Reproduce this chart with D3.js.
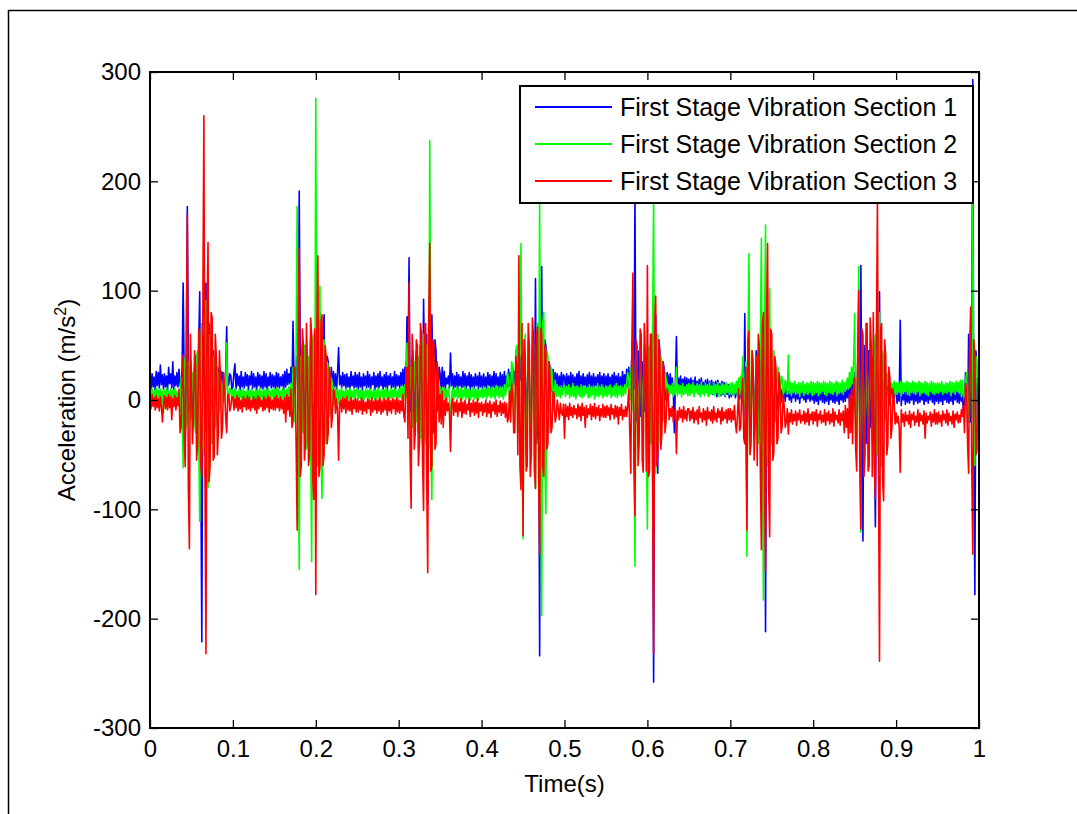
<!DOCTYPE html>
<html>
<head>
<meta charset="utf-8">
<script src="https://cdn.jsdelivr.net/npm/d3@7"></script>
<style>
  body { margin: 0; background: #fff; }
  text { font-family: "Liberation Sans", Arial, sans-serif; fill: #000; }
</style>
</head>
<body>
<svg width="1077" height="814"></svg>
<script>
// Sampling of the recorded signal (one value every 1.25 ms, 0 .. 1 s).
const sampleStep = 0.00125;
const sampleCount = 801;

// Section 1 (blue), m/s^2. 40 samples (50 ms) per row.
const section1 = [
  22,10,24,12,21,9,26,13,25,11,32,14,23,10,24,12,22,9,30,15,24,11,35,10,22,13,25,12,28,15,8,30,107,20,-40,25,177,40,-10,15,
  25,-15,5,30,40,-20,-30,50,99,-50,-221,60,40,-30,107,-40,-60,70,50,-20,-30,45,35,-10,5,30,28,8,10,26,24,11,12,25,67,13,14,24,22,10,
  12,25,33,10,24,13,22,9,26,12,21,11,25,13,23,9,22,14,26,10,24,12,21,9,25,13,23,11,22,10,26,12,24,9,21,13,25,11,23,12,
  22,10,25,12,24,11,21,13,23,9,26,12,28,14,24,15,30,12,72,20,5,35,40,-10,191,30,-20,50,35,-15,0,40,30,-25,-10,55,45,-35,-30,60,
  60,-45,-60,70,80,-30,-40,60,78,-25,-20,40,35,5,8,30,10,26,12,24,9,25,48,14,22,11,25,13,23,10,24,12,21,9,26,13,22,11,25,12,
  23,10,25,12,21,9,24,13,22,11,26,12,23,10,21,14,25,9,22,12,24,11,26,13,21,10,23,12,25,9,22,14,24,11,21,12,26,10,23,13,
  22,11,25,13,28,12,30,10,76,25,130,-10,-10,40,35,-20,5,45,40,-30,-5,50,50,-40,92,30,-20,60,-95,45,60,-50,78,20,-30,55,45,-10,5,30,
  24,8,30,12,26,10,20,15,22,11,43,13,24,10,22,12,25,9,23,13,21,11,26,12,24,10,22,13,25,9,23,12,21,11,24,13,22,10,25,12,
  22,11,24,12,21,10,25,13,23,9,22,12,26,11,24,13,21,10,25,12,23,11,26,14,22,12,28,13,25,11,30,14,26,15,32,12,30,18,40,10,
  -20,45,30,-10,5,35,25,-15,-10,50,40,-20,111,-40,-30,60,-234,30,122,-30,-20,55,50,-10,0,35,30,8,12,28,10,25,13,24,11,22,12,25,10,23,
  21,10,24,12,22,9,25,11,23,13,21,10,24,12,26,9,22,11,24,13,21,10,23,12,25,9,22,11,24,12,21,13,23,10,25,11,22,12,24,10,
  22,10,24,12,21,9,23,11,25,12,22,10,24,13,21,11,26,12,23,14,28,12,30,15,20,40,60,10,185,-10,-20,45,30,-15,0,35,25,-10,10,40,
  30,-35,-20,50,40,-30,-258,60,78,-40,-67,55,45,-25,-10,35,30,0,5,25,22,10,24,12,20,9,-30,15,58,8,20,11,22,9,19,12,21,10,20,11,
  19,7,20,9,18,6,21,8,17,7,19,5,20,8,16,6,18,7,19,4,17,6,18,5,16,7,17,3,18,6,15,4,17,5,16,3,15,5,14,2,
  14,3,15,5,13,2,16,4,18,1,20,0,30,-15,79,-20,-90,40,25,-30,-10,35,30,-25,-5,45,40,-35,-20,50,50,-30,-40,60,-212,40,74,-50,-30,45,
  30,-20,-5,25,20,-10,0,15,12,-2,10,2,9,-1,11,3,8,0,10,-2,9,2,11,-1,8,1,10,-3,9,2,7,0,10,-2,8,1,9,-1,11,0,
  8,-3,9,-1,7,-4,10,0,8,-2,9,-3,7,-1,10,-4,8,0,9,-2,7,-3,10,-1,8,-4,9,0,7,-2,11,-1,9,2,14,-3,12,4,22,-5,
  25,-20,-10,35,40,-15,123,-30,-129,50,30,-40,-20,45,45,-25,-10,40,35,-35,-116,30,20,-20,99,-40,-30,35,30,-15,-5,20,15,-5,0,12,8,-2,2,9,
  7,-3,8,-1,73,-5,9,0,7,-4,8,-2,10,-3,7,0,9,-4,8,-1,7,-3,10,-2,8,0,9,-4,7,-1,10,-3,8,0,9,-2,7,-4,8,-1,
  8,-3,9,-1,7,-4,10,0,8,-2,9,-3,7,-1,10,-4,8,0,9,-2,7,-3,11,-1,10,-15,-5,25,20,-20,60,-10,-20,40,293,-50,-178,45,30,-20,
  5
];

// Section 2 (green)
const section2 = [
  9,0,10,2,8,-1,11,1,9,0,10,-2,8,-12,9,1,11,0,8,2,10,-1,9,1,11,0,8,2,5,-10,20,-15,-62,30,39,-25,-20,35,25,-20,
  -10,25,15,-20,-30,40,45,-35,-111,50,70,-45,-50,65,91,-60,-80,50,60,-35,-40,40,35,-25,-15,30,20,-10,-5,15,12,-2,0,10,52,1,2,11,8,0,
  9,0,11,1,8,-1,10,2,9,0,11,-1,8,1,10,0,9,2,11,-1,8,0,10,1,9,-1,11,2,8,0,10,-1,9,1,11,0,8,2,10,1,
  9,1,11,0,10,2,8,-1,11,1,9,0,10,2,12,4,15,-5,30,-15,-20,45,177,-30,-155,40,40,-25,-30,50,50,-45,-40,40,35,-30,-148,55,60,-40,
  276,-40,-60,60,104,-50,-90,45,55,-30,-40,35,30,-15,-10,20,15,-5,0,12,1,10,-3,9,0,11,1,8,-1,10,2,9,0,11,1,8,2,10,0,9,
  10,1,9,2,11,0,8,1,10,3,9,0,11,2,8,1,10,0,9,2,11,1,8,3,10,0,9,2,11,1,8,0,10,2,9,1,11,3,8,1,
  10,2,11,1,12,0,14,3,52,-10,-20,30,30,-25,-15,35,25,-20,-10,40,35,-35,-30,45,60,-30,-40,50,45,-45,237,-40,-91,40,40,-30,-20,25,20,-5,
  12,-4,10,2,11,0,9,3,12,1,-36,2,11,0,9,3,12,1,10,2,11,0,9,3,12,1,10,2,11,0,9,3,12,1,10,2,11,0,9,3,
  11,2,12,3,10,1,13,4,11,2,12,3,10,1,13,4,11,2,12,3,10,1,14,4,12,25,20,0,8,35,30,-15,-10,45,50,-30,-20,60,143,-40,
  -127,40,60,-50,-40,55,45,-45,-30,60,50,-60,-81,50,70,-40,185,-60,-197,70,80,-50,-104,45,40,-30,-20,30,25,-10,0,18,3,14,4,12,2,13,5,11,
  13,3,12,5,14,2,11,4,15,3,12,1,13,5,11,3,14,2,12,4,13,6,11,2,14,3,12,5,13,1,11,4,15,3,12,5,14,2,11,4,
  13,3,12,5,14,2,11,4,13,3,15,2,12,5,13,3,11,4,14,6,14,25,20,0,30,-10,67,-20,-152,45,40,-35,-30,40,35,-25,-20,50,45,-40,
  -118,45,50,-40,-40,60,185,-50,-67,50,60,-40,-30,40,35,-20,-10,25,20,0,14,4,13,6,15,3,12,5,30,4,14,6,13,3,15,5,12,6,14,4,
  15,4,14,6,16,3,13,7,15,5,14,3,16,6,13,4,15,7,14,3,16,5,13,6,15,4,14,7,16,3,13,5,15,6,14,4,16,7,13,5,
  15,5,16,4,14,6,17,3,20,5,22,2,40,-10,10,35,-143,50,134,-30,-20,45,35,-35,-15,40,40,-40,-30,55,148,-50,-183,60,160,-45,-60,50,102,-40,
  -40,30,45,-20,-10,25,30,-5,5,22,20,4,8,18,15,5,41,6,16,4,15,7,17,5,14,6,16,3,15,7,17,4,14,6,16,5,15,7,17,4,
  16,5,15,7,17,4,16,6,15,8,17,5,16,4,15,7,17,6,16,5,15,8,17,4,16,6,15,7,18,5,16,8,15,20,10,25,12,30,15,35,
  79,-30,-20,40,122,-50,-121,45,50,-40,-30,35,40,-45,-20,40,45,-35,-40,50,60,-45,-50,55,80,-40,-60,45,40,-20,-10,25,20,6,5,16,15,7,17,5,
  16,5,15,7,17,4,16,6,15,8,17,5,16,4,15,7,17,6,16,5,15,8,17,4,16,6,15,7,17,5,16,4,15,8,17,6,16,5,15,7,
  16,6,15,8,17,5,14,7,16,6,15,8,17,4,16,7,15,5,17,8,16,6,18,3,18,4,3,15,25,-10,-20,30,40,-15,185,-40,-60,40,35,-10,
  12
];

// Section 3 (red)
const section3 = [
  3,-8,5,-6,2,-9,4,-7,1,-10,3,-6,-20,-5,4,-8,2,-9,5,-7,3,-18,1,-6,4,-9,2,-5,10,-30,-25,20,41,-35,-61,50,169,-80,-136,60,
  20,-40,-15,45,30,-55,-40,65,60,-60,-70,80,260,-65,-232,70,144,-75,-60,80,75,-55,-52,60,40,-50,-30,45,20,-35,-25,25,10,-15,-30,5,5,-10,-6,3,
  3,-9,1,-7,4,-10,2,-8,0,-11,3,-6,1,-9,4,-8,2,-10,0,-7,3,-9,1,-12,4,-8,2,-6,0,-10,3,-9,1,-7,4,-11,2,-8,0,-9,
  2,-9,4,-7,1,-10,3,-8,0,-12,2,-20,5,-9,3,-15,10,-25,-20,30,30,-40,-119,60,139,-70,-60,65,50,-55,-40,70,30,-60,-50,75,60,-70,-91,65,
  -178,60,132,-70,-60,70,78,-60,-50,50,40,-40,-30,30,20,-25,-15,10,8,-12,1,-10,-55,-3,0,-11,2,-8,1,-12,3,-9,-1,-10,2,-13,0,-8,1,-11,
  1,-11,-1,-9,2,-13,0,-10,-2,-12,1,-8,0,-14,2,-11,-1,-9,1,-12,0,-10,2,-13,-1,-11,1,-9,0,-14,2,-10,-1,-12,1,-8,0,-13,2,-11,
  0,-12,-1,-10,5,-15,-20,20,30,-35,107,-50,-99,60,40,-45,-30,55,50,-60,-40,70,60,-55,-101,65,70,-70,-158,75,143,-65,-60,55,50,-45,-40,35,25,-20,
  5,-22,8,-25,0,-14,2,-10,-3,-12,-47,-4,1,-14,-2,-11,0,-15,-3,-10,1,-16,-2,-12,0,-13,-4,-9,1,-15,-3,-11,0,-14,-2,-12,1,-16,-3,-10,
  -2,-14,-4,-11,0,-15,-3,-12,-1,-16,-4,-10,-2,-13,0,-15,-5,-11,-1,-14,-3,-12,-2,-16,-3,-20,-16,8,-20,15,5,-30,-30,40,30,-50,132,-60,-82,70,
  -124,55,40,-65,-60,70,50,-70,-50,75,60,-65,-81,60,67,-70,-141,65,60,-60,-70,50,45,-45,-40,35,20,-30,-25,8,5,-20,-15,0,-8,-18,-3,-12,-14,-4,
  -35,-4,-15,-6,-18,-3,-14,-7,-16,-5,-13,-8,-17,-4,-15,-6,-19,-3,-14,-7,-25,-5,-16,-8,-13,-4,-18,-6,-15,-3,-17,-7,-14,-5,-19,-8,-15,-4,-16,-6,
  -16,-5,-14,-7,-18,-4,-13,-8,-17,-5,-15,-6,-22,-7,-14,-4,-18,-9,-15,-6,-15,-5,10,-30,-67,50,116,-60,-106,55,50,-60,-40,65,60,-55,-66,70,40,-65,
  123,-70,-66,60,60,-75,-232,70,95,-60,-50,55,40,-45,-30,35,25,-30,-20,10,5,-18,-8,-15,-6,-20,-12,-8,-49,-10,-18,-7,-16,-9,-20,-6,-17,-10,-19,-8,
  -8,-19,-10,-17,-7,-21,-11,-18,-9,-22,-6,-16,-12,-20,-8,-18,-10,-23,-7,-17,-11,-19,-9,-21,-6,-18,-12,-20,-8,-16,-10,-22,-7,-19,-11,-17,-9,-21,-8,-18,
  -8,-20,-10,-18,-5,-22,-30,-12,10,-28,-25,5,20,-35,-40,30,-119,55,63,-50,-40,45,30,-55,-20,40,-60,60,50,-65,-137,70,80,-70,-157,75,143,-80,-125,65,
  60,-55,-48,40,30,-40,-35,25,10,-30,-25,5,-5,-25,-20,-8,-31,-12,-20,-9,-22,-13,-19,-10,-23,-12,-18,-9,-21,-14,-19,-10,-22,-12,-20,-8,-23,-13,-18,-11,
  -22,-11,-19,-9,-24,-13,-18,-10,-21,-14,-20,-9,-23,-12,-19,-10,-22,-13,-20,-8,-24,-11,-18,-14,-21,-9,-23,-12,-19,-10,-30,-5,-25,-8,-35,5,-30,10,-40,15,
  20,-45,-65,50,100,-60,-118,65,60,-70,-50,70,70,-65,-60,75,50,-70,80,-60,-90,60,182,-70,-239,65,70,-75,-92,55,40,-50,-40,30,20,-35,-25,10,0,-22,
  -12,-21,-15,-25,-66,-9,-20,-13,-24,-11,-19,-14,-22,-10,-25,-13,-18,-11,-23,-15,-20,-9,-24,-12,-19,-14,-22,-10,-35,-12,-21,-15,-18,-11,-24,-13,-20,-9,-22,-12,
  -22,-11,-20,-14,-24,-10,-18,-13,-21,-9,-23,-12,-19,-15,-22,-10,-25,-13,-18,-11,-21,-14,-20,-9,-15,-5,-30,15,10,-40,-67,50,85,-60,-141,55,40,-50,-46,20,
  -10
];

const seriesNames = [
  "First Stage Vibration Section 1",
  "First Stage Vibration Section 2",
  "First Stage Vibration Section 3"
];
const seriesColors = ["#0000ff", "#00ff00", "#ff0000"];

const xTicks = [0, 0.1, 0.2, 0.3, 0.4, 0.5, 0.6, 0.7, 0.8, 0.9, 1];
const yTicks = [-300, -200, -100, 0, 100, 200, 300];

// SVG plotting related variables.
const svg = d3.select("svg");
const margin = { top: 72, right: 98, bottom: 86, left: 150 };
const width = +svg.attr("width");
const height = +svg.attr("height");
const plotWidth = width - margin.left - margin.right;   // 829
const plotHeight = height - margin.top - margin.bottom; // 656

const time = d3.range(sampleCount).map(i => i * sampleStep);

// Figure frame (only the top and left edges are inside the window)
svg.append("rect")
   .attr("x", 8.5).attr("y", 10.5)
   .attr("width", 1200).attr("height", 1000)
   .attr("fill", "none")
   .attr("stroke", "#000")
   .attr("stroke-width", 1.5);

const g = svg.append("g").attr("transform", `translate(${margin.left},${margin.top})`);

g.append("defs")
 .append("clipPath")
 .attr("id", "plot-clip")
 .append("rect")
 .attr("width", plotWidth)
 .attr("height", plotHeight);

// Scales
const xScale = d3.scaleLinear().domain([0, 1]).range([0, plotWidth]);
const yScale = d3.scaleLinear().domain([-300, 300]).range([plotHeight, 0]);

// Lines, blue first so red ends on top
const line = d3.line()
               .x((d, i) => xScale(time[i]))
               .y(d => yScale(d));

[section1, section2, section3].forEach((s, k) => {
    g.append("path")
     .datum(s)
     .attr("clip-path", "url(#plot-clip)")
     .attr("fill", "none")
     .attr("stroke", seriesColors[k])
     .attr("stroke-width", 1.6)
     .attr("stroke-linejoin", "round")
     .attr("d", line);
});

// Axes: ticks point inwards on all four sides
const styleAxis = sel => {
    sel.select(".domain").remove();
    sel.selectAll("line").attr("stroke", "#000").attr("stroke-width", 1.3);
    sel.selectAll("text")
       .style("font-size", "24px")
       .style("font-family", "'Liberation Sans', Arial, sans-serif")
       .attr("fill", "#000");
};

g.append("g")
 .attr("transform", `translate(0,${plotHeight})`)
 .call(d3.axisBottom(xScale).tickValues(xTicks).tickSizeInner(-8).tickSizeOuter(0).tickPadding(12)
         .tickFormat(d => String(d)))
 .call(styleAxis);

g.append("g")
 .call(d3.axisTop(xScale).tickValues(xTicks).tickSizeInner(-8).tickSizeOuter(0).tickFormat(""))
 .call(styleAxis);

g.append("g")
 .call(d3.axisLeft(yScale).tickValues(yTicks).tickSizeInner(-8).tickSizeOuter(0).tickPadding(9)
         .tickFormat(d => String(d)))
 .call(styleAxis);

g.append("g")
 .attr("transform", `translate(${plotWidth},0)`)
 .call(d3.axisRight(yScale).tickValues(yTicks).tickSizeInner(-8).tickSizeOuter(0).tickFormat(""))
 .call(styleAxis);

// Axes box
g.append("rect")
 .attr("width", plotWidth)
 .attr("height", plotHeight)
 .attr("fill", "none")
 .attr("stroke", "#000")
 .attr("stroke-width", 2);

// Axis titles
g.append("text")
 .attr("x", plotWidth / 2)
 .attr("y", plotHeight + 64)
 .attr("text-anchor", "middle")
 .style("font-size", "24px")
 .text("Time(s)");

const yLabel = g.append("text")
                .attr("transform", `translate(-75,${plotHeight / 2}) rotate(-90)`)
                .attr("text-anchor", "middle")
                .style("font-size", "24px");
yLabel.append("tspan").text("Acceleration (m/s");
yLabel.append("tspan").attr("dy", -9).style("font-size", "16px").text("2");
yLabel.append("tspan").attr("dy", 9).text(")");

// Legend
const legend = svg.append("g").attr("transform", "translate(520,86)");

legend.append("rect")
      .attr("width", 453)
      .attr("height", 117)
      .attr("fill", "#fff")
      .attr("stroke", "#000")
      .attr("stroke-width", 2);

const legendGroups = legend.selectAll(".legend-item")
                           .data(seriesNames)
                           .enter()
                           .append("g")
                           .attr("class", "legend-item")
                           .attr("transform", (d, i) => `translate(0,${21 + i * 37})`);

legendGroups.append("line")
            .attr("x1", 15)
            .attr("x2", 92)
            .attr("stroke", (d, i) => seriesColors[i])
            .attr("stroke-width", 2);

legendGroups.append("text")
            .attr("x", 100)
            .attr("y", 9)
            .style("font-size", "25px")
            .text(d => d);
</script>
</body>
</html>
